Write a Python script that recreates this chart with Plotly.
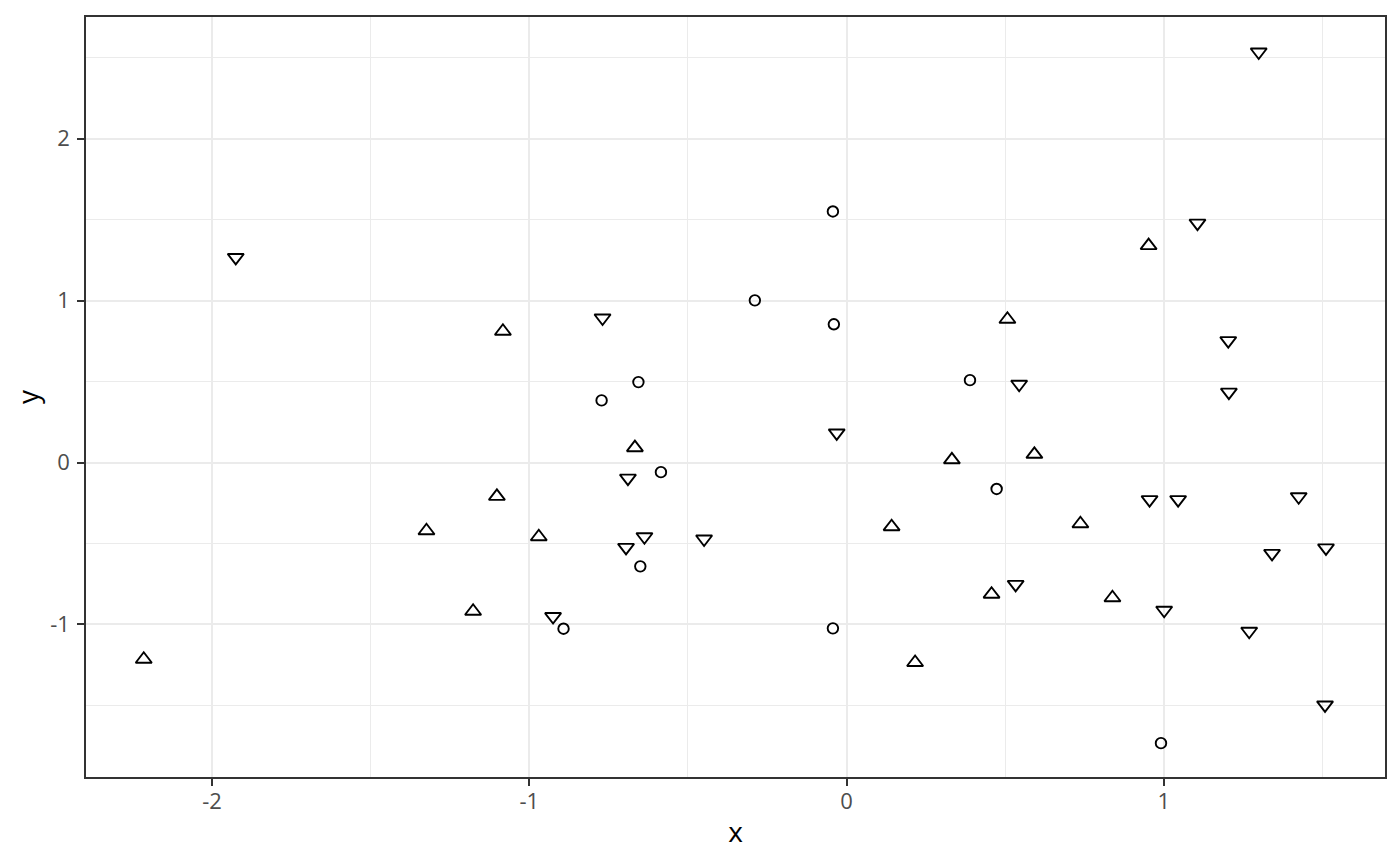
import plotly.graph_objects as go

# circle points
circ_x = [-0.043, -0.289, -0.040, -0.656, -0.772, 0.389, -0.585, 0.473, -0.650, -0.892, -0.043, 0.991]
circ_y = [1.551, 1.002, 0.854, 0.497, 0.384, 0.509, -0.059, -0.163, -0.641, -1.026, -1.024, -1.733]

# triangle-up points
up_x = [-2.215, -1.083, -1.102, -1.324, -0.970, -1.177, -0.667, 0.952, 0.507, 0.332,
        0.592, 0.142, 0.737, 0.457, 0.838, 0.216]
up_y = [-1.215, 0.811, -0.209, -0.421, -0.458, -0.918, 0.092, 1.340, 0.885, 0.017,
        0.051, -0.396, -0.378, -0.813, -0.835, -1.235]

# triangle-down points
down_x = [1.299, 1.106, -1.925, -0.769, 1.203, 1.205, 0.544, -0.031, -0.689, -0.637, -0.695,
          -0.449, -0.925, 0.955, 1.045, 1.425, 1.341, 1.511, 0.533, 1.001, 1.269, 1.508]
down_y = [2.536, 1.479, 1.267, 0.893, 0.753, 0.435, 0.484, 0.183, -0.096, -0.458, -0.524,
          -0.472, -0.951, -0.229, -0.229, -0.211, -0.561, -0.527, -0.752, -0.912, -1.042, -1.497]

x_ticks = [-2, -1, 0, 1]
y_ticks = [-1, 0, 1, 2]


def addPoints(fig, xs, ys, symbol, size):
    fig.add_scatter(
        x=xs, y=ys, mode='markers', showlegend=False,
        marker=dict(symbol=symbol, size=size, color='black',
                    line=dict(color='black', width=1.9)),
    )
    return fig


def axisStyle(ticks, rng, title, standoff, labelgap):
    return dict(
        range=rng, tickvals=ticks, ticktext=[str(t) for t in ticks],
        showgrid=True, gridcolor='#EBEBEB', gridwidth=2,
        minor=dict(dtick=0.5, showgrid=True, gridcolor='#EBEBEB', gridwidth=1.2),
        zeroline=False, showline=True, mirror=True, linecolor='#333333', linewidth=1.6,
        ticks='outside', ticklen=7, tickcolor='#333333', tickwidth=2,
        ticklabelstandoff=labelgap,
        tickfont=dict(size=22, color='#4D4D4D'),
        title=dict(text=title, font=dict(size=28, color='black'), standoff=standoff),
    )


fig = go.Figure()
fig = addPoints(fig, circ_x, circ_y, 'circle-open', 10.5)
fig = addPoints(fig, up_x, up_y, 'triangle-up-open', 14)
fig = addPoints(fig, down_x, down_y, 'triangle-down-open', 14)

# the page body has an 8px margin, so the figure is shrunk to fit the window
fig.update_layout(
    width=1392, height=858,
    margin=dict(l=78, r=15, t=7, b=89),
    plot_bgcolor='white', paper_bgcolor='white',
    font=dict(family='Open Sans', color='black'),
    xaxis=axisStyle(x_ticks, [-2.397, 1.697], 'x', 8, -3),
    yaxis=axisStyle(y_ticks, [-1.942, 2.752], 'y', 8, 3),
)

fig.write_html("out.html")
